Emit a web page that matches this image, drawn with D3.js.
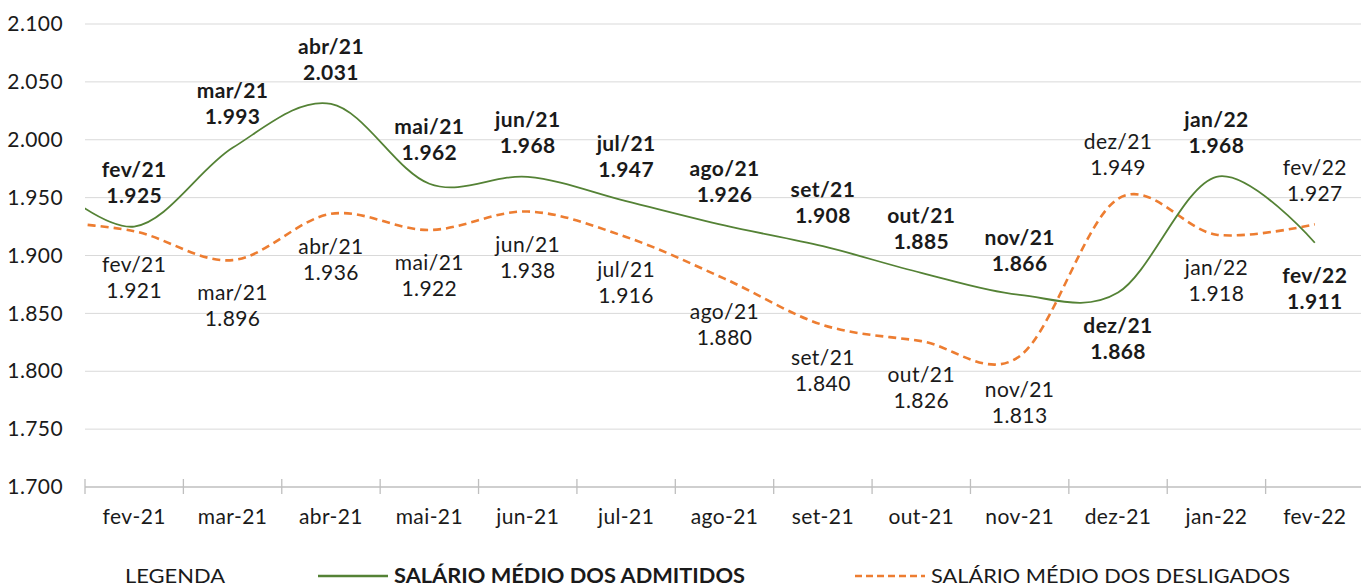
<!DOCTYPE html>
<html>
<head>
<meta charset="utf-8">
<script src="https://cdn.jsdelivr.net/npm/d3@7"></script>
<style>
  html, body { margin: 0; padding: 0; background: #fff; }
  svg { display: block; font-family: Lato, "Noto Sans", sans-serif; }
</style>
</head>
<body>
<svg id="chart" width="1361" height="587"></svg>
<script>
// ---- data ----
const categories = ["fev-21","mar-21","abr-21","mai-21","jun-21","jul-21","ago-21","set-21","out-21","nov-21","dez-21","jan-22","fev-22"];
const pointLabels = ["fev/21","mar/21","abr/21","mai/21","jun/21","jul/21","ago/21","set/21","out/21","nov/21","dez/21","jan/22","fev/22"];
const admitidos = [1925,1993,2031,1962,1968,1947,1926,1908,1885,1866,1868,1968,1911];
const desligados = [1921,1896,1936,1922,1938,1916,1880,1840,1826,1813,1949,1918,1927];
// preceding month (jan-21), outside the visible plot, only its curve entry shows
const admitidosPrev = 1973;
const desligadosPrev = 1930;
const admitidosLabelPos = ["above","above","above","above","above","above","above","above","above","above","below","above","below"];
const desligadosLabelPos = ["below","below","below","below","below","below","below","below","below","below","above","below","above"];
const yTicks = [1700,1750,1800,1850,1900,1950,2000,2050,2100];
const legendTitle = "LEGENDA";
const seriesNames = ["SALÁRIO MÉDIO DOS ADMITIDOS","SALÁRIO MÉDIO DOS DESLIGADOS"];

// ---- layout ----
const svg = d3.select("#chart");
const mLeft = 85, mRight = 1364, mTop = 24, mBottom = 487;
const GREEN = "#548235", ORANGE = "#ED7D31", TEXT = "#1a1a1a";
const FS = 21, LS = "0.4px";
const locale = d3.formatLocale({decimal: ",", thousands: ".", grouping: [3], currency: ["R$", ""]});
const fmt = locale.format(",d");

const x = d3.scaleBand().domain(categories).range([mLeft, mRight]).paddingInner(0).paddingOuter(0);
const y = d3.scaleLinear().domain([1700, 2100]).range([mBottom, mTop]);
const cx = i => i < 0 ? x(categories[0]) + x.bandwidth() / 2 - x.step() : x(categories[i]) + x.bandwidth() / 2;

// gridlines
svg.append("g").selectAll("line").data(yTicks.filter(d => d !== 1700)).join("line")
  .attr("x1", mLeft).attr("x2", mRight)
  .attr("y1", d => y(d)).attr("y2", d => y(d))
  .attr("stroke", "#d9d9d9").attr("stroke-width", 1);

// y axis labels
const yAxis = svg.append("g").attr("transform", `translate(${mLeft},0)`)
  .call(d3.axisLeft(y).tickValues(yTicks).tickFormat(fmt).tickSize(0).tickPadding(22));
yAxis.select(".domain").remove();
yAxis.selectAll("text").attr("font-size", FS).attr("fill", TEXT)
  .attr("font-family", "Lato, sans-serif").attr("letter-spacing", LS);

// x axis
const xAxisG = svg.append("g").attr("transform", `translate(0,${mBottom})`);
xAxisG.append("line").attr("x1", mLeft).attr("x2", mRight).attr("y1", 0).attr("y2", 0)
  .attr("stroke", "#bfbfbf").attr("stroke-width", 1.3);
xAxisG.selectAll("line.tick").data(categories).join("line").attr("class", "tick")
  .attr("x1", d => x(d)).attr("x2", d => x(d)).attr("y1", -8).attr("y2", 7)
  .attr("stroke", "#bfbfbf").attr("stroke-width", 1.3);
xAxisG.selectAll("text").data(categories).join("text")
  .attr("x", d => x(d) + x.bandwidth() / 2).attr("y", 37)
  .attr("text-anchor", "middle").attr("font-size", FS).attr("letter-spacing", LS)
  .attr("fill", TEXT).text(d => d);

// clip
svg.append("clipPath").attr("id", "plotclip").append("rect")
  .attr("x", mLeft).attr("y", 0).attr("width", mRight - mLeft + 2).attr("height", 587);

const line = d3.line().x(d => cx(d.i)).y(d => y(d.v)).curve(d3.curveCatmullRom.alpha(0));

const greenPts = [{i: -1, v: admitidosPrev}].concat(admitidos.map((v, i) => ({i, v})));
const orangePts = [{i: -1, v: desligadosPrev}].concat(desligados.map((v, i) => ({i, v})));

const plot = svg.append("g").attr("clip-path", "url(#plotclip)");
plot.append("path").attr("d", line(orangePts)).attr("fill", "none")
  .attr("stroke", ORANGE).attr("stroke-width", 2.6).attr("stroke-dasharray", "8,5");
plot.append("path").attr("d", line(greenPts)).attr("fill", "none")
  .attr("stroke", GREEN).attr("stroke-width", 1.8);

// data labels
function addLabels(values, names, pos, weight) {
  const g = svg.append("g");
  values.forEach((v, i) => {
    const px = cx(i), py = y(v);
    const l1 = pos[i] === "above" ? py - 57 : py + 33;
    const t = g.append("text").attr("text-anchor", "middle").attr("font-size", FS)
      .attr("letter-spacing", LS).attr("font-weight", weight).attr("fill", TEXT);
    t.append("tspan").attr("x", px).attr("y", l1).attr("dy", "0.35em").text(names[i]);
    t.append("tspan").attr("x", px).attr("y", l1 + 26).attr("dy", "0.35em").text(fmt(v));
  });
}
addLabels(desligados, pointLabels, desligadosLabelPos, 400);
addLabels(admitidos, pointLabels, admitidosLabelPos, 700);

// legend
const lg = svg.append("g");
const LY = 576;
lg.append("text").attr("x", 125).attr("y", LY).attr("dy", "0.35em").attr("font-size", 20)
  .attr("textLength", 100).attr("lengthAdjust", "spacingAndGlyphs")
  .attr("fill", TEXT).text(legendTitle);
lg.append("line").attr("x1", 318).attr("x2", 388).attr("y1", LY).attr("y2", LY)
  .attr("stroke", GREEN).attr("stroke-width", 2.5);
lg.append("text").attr("x", 394).attr("y", LY).attr("dy", "0.35em").attr("font-size", 20)
  .attr("textLength", 351).attr("lengthAdjust", "spacingAndGlyphs")
  .attr("font-weight", 700).attr("fill", TEXT).text(seriesNames[0]);
lg.append("line").attr("x1", 855).attr("x2", 925).attr("y1", LY).attr("y2", LY)
  .attr("stroke", ORANGE).attr("stroke-width", 2.5).attr("stroke-dasharray", "7,4");
lg.append("text").attr("x", 931).attr("y", LY).attr("dy", "0.35em").attr("font-size", 20)
  .attr("textLength", 359).attr("lengthAdjust", "spacingAndGlyphs")
  .attr("fill", TEXT).text(seriesNames[1]);
</script>
</body>
</html>
